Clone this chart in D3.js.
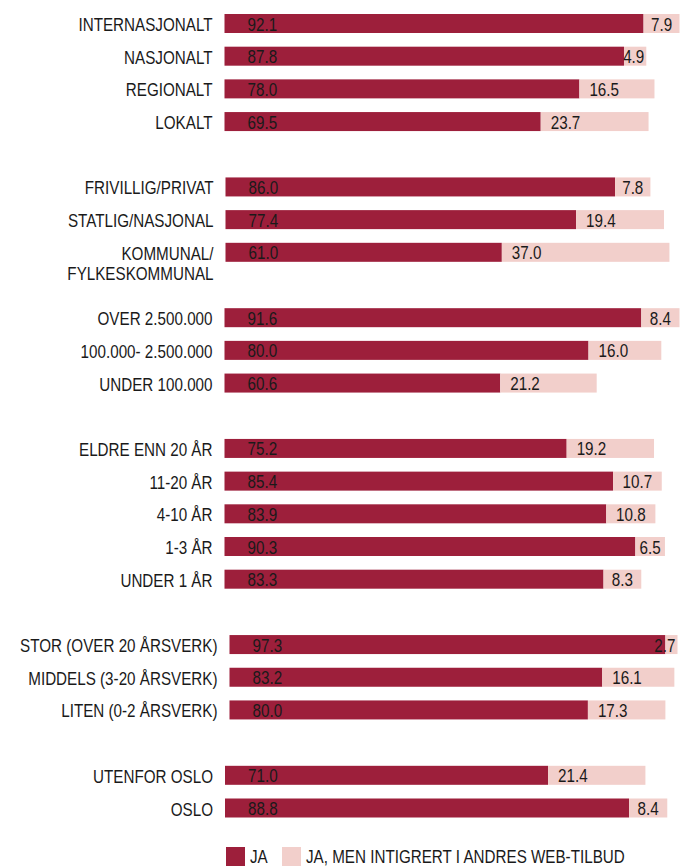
<!DOCTYPE html>
<html>
<head>
<meta charset="utf-8">
<script src="https://cdn.jsdelivr.net/npm/d3@7"></script>
<style>
  html, body { margin: 0; padding: 0; background: #fff; }
  svg text { font-family: "Liberation Sans", Arial, sans-serif; fill: #1a1a1a; }
</style>
</head>
<body>
<div id="chart"></div>
<script>
// categories, in reading order (\n = line break in the label)
const categories = [
  "INTERNASJONALT", "NASJONALT", "REGIONALT", "LOKALT",
  "FRIVILLIG/PRIVAT", "STATLIG/NASJONAL", "KOMMUNAL/\nFYLKESKOMMUNAL",
  "OVER 2.500.000", "100.000- 2.500.000", "UNDER 100.000",
  "ELDRE ENN 20 ÅR", "11-20 ÅR", "4-10 ÅR", "1-3 ÅR", "UNDER 1 ÅR",
  "STOR (OVER 20 ÅRSVERK)", "MIDDELS (3-20 ÅRSVERK)", "LITEN (0-2 ÅRSVERK)",
  "UTENFOR OSLO", "OSLO"
];
const groupOf = [0, 0, 0, 0, 1, 1, 1, 2, 2, 2, 3, 3, 3, 3, 3, 4, 4, 4, 5, 5];

const jaValues = [92.1, 87.8, 78.0, 69.5, 86.0, 77.4, 61.0, 91.6, 80.0, 60.6,
                  75.2, 85.4, 83.9, 90.3, 83.3, 97.3, 83.2, 80.0, 71.0, 88.8];
const integrertValues = [7.9, 4.9, 16.5, 23.7, 7.8, 19.4, 37.0, 8.4, 16.0, 21.2,
                         19.2, 10.7, 10.8, 6.5, 8.3, 2.7, 16.1, 17.3, 21.4, 8.4];

const seriesNames = ["JA", "JA, MEN INTIGRERT I ANDRES WEB-TILBUD"];
const colors = ["#9d1f3b", "#f2cfcb"];

// layout
const width = 680, height = 868;
const barStart = [224.5, 225.5, 224.5, 224.5, 229.5, 225];
const barSpan  = [455, 453, 455, 455, 448, 455];
const barH = 19;
const squeeze = 0.845;   // condensed look of the original font

const svg = d3.select("#chart").append("svg")
  .attr("width", width).attr("height", height);

// condensed text: a group that is scaled horizontally
function narrow(parent, x, y, size, anchor) {
  return parent.append("g")
    .attr("transform", `translate(${x},${y}) scale(${squeeze},1)`)
    .append("text")
    .attr("font-size", size)
    .attr("text-anchor", anchor || "start");
}

// rows plus one empty slot between groups
const rows = [];
categories.forEach((c, i) => {
  if (i > 0 && groupOf[i] !== groupOf[i - 1]) rows.push("gap" + groupOf[i]);
  rows.push(c);
});
const y = d3.scalePoint().domain(rows).range([23.5, 808]);

const xs = barSpan.map((s, g) => d3.scaleLinear().domain([0, 100]).range([barStart[g], barStart[g] + s]));

const data = categories.map((c, i) => ({
  cat: c, g: groupOf[i], ja: jaValues[i], integ: integrertValues[i]
}));

const row = svg.selectAll("g.row").data(data).enter().append("g")
  .attr("class", "row")
  .attr("transform", d => `translate(0,${y(d.cat)})`);

row.each(function(d) {
  const r = d3.select(this);
  const x = xs[d.g];

  // category label
  d.cat.split("\n").forEach((l, k) => {
    narrow(r, barStart[d.g] - 12, 7.5 + k * 20, 18, "end").text(l);
  });

  // JA segment
  r.append("rect")
    .attr("x", x(0)).attr("y", -barH / 2)
    .attr("width", x(d.ja) - x(0)).attr("height", barH)
    .attr("fill", colors[0]);

  // integrert segment
  r.append("rect")
    .attr("x", x(d.ja)).attr("y", -barH / 2)
    .attr("width", x(d.ja + d.integ) - x(d.ja)).attr("height", barH)
    .attr("fill", colors[1]);

  // value labels
  narrow(r, x(0) + 23, 7, 18).text(d.ja.toFixed(1));

  const x0 = x(d.ja), x1 = x(d.ja + d.integ), w = x1 - x0;
  const t = narrow(r, 0, 7, 18).text(d.integ.toFixed(1));
  const tw = t.node().getComputedTextLength() * squeeze;
  const tx = Math.min(x0 + Math.min(10, (w - tw) / 2), x1 - tw - 2);
  d3.select(t.node().parentNode)
    .attr("transform", `translate(${tx},7) scale(${squeeze},1)`);
});

// legend
const legend = svg.append("g").attr("transform", "translate(226,847)");
const lx = [0, 56];
seriesNames.forEach((n, i) => {
  legend.append("rect").attr("x", lx[i]).attr("y", 0)
    .attr("width", 19).attr("height", 19).attr("fill", colors[i]);
  narrow(legend, lx[i] + 24, 16, 18).text(n);
});
</script>
</body>
</html>
